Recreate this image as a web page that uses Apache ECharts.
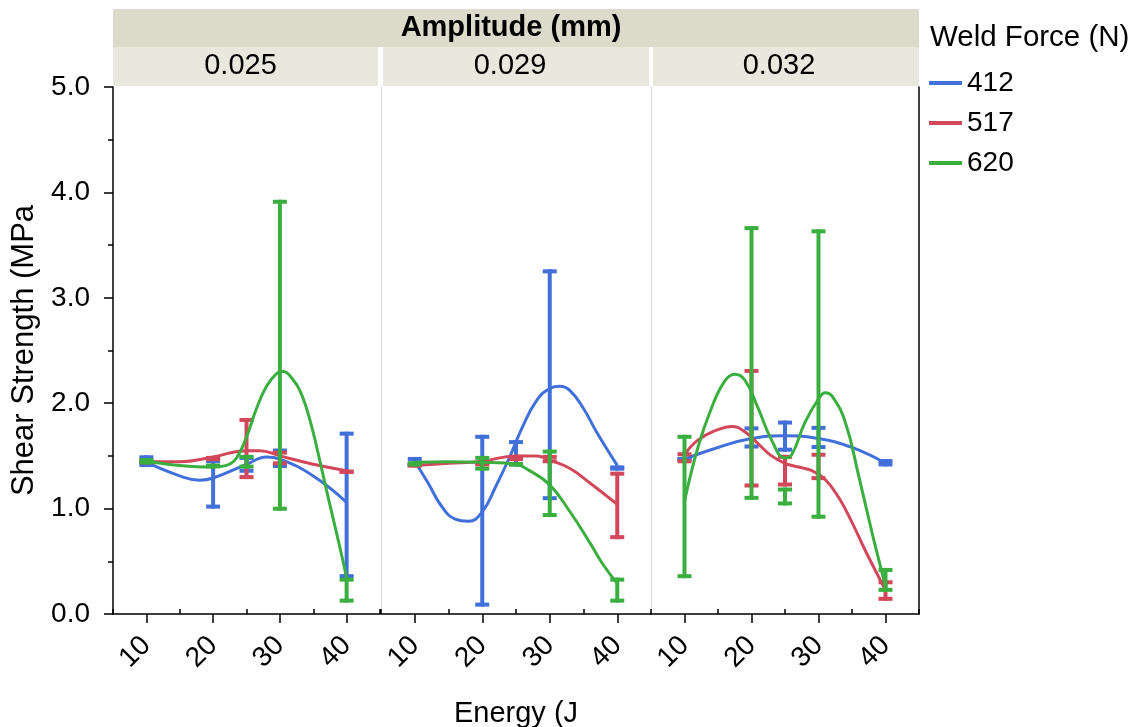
<!DOCTYPE html>
<html>
<head>
<meta charset="utf-8">
<script src="https://cdn.jsdelivr.net/npm/echarts@6/dist/echarts.min.js"></script>
<style>
html,body{margin:0;padding:0;background:#fff;}
#chart{width:1144px;height:727px;}
</style>
</head>
<body>
<div id="chart"></div>
<script>
// ---- data ----
const energyTicks = [10, 20, 30, 40];
const minorTicks = [5, 15, 25, 35, 45];
const amplitudes = ['0.025', '0.029', '0.032'];
const forces = ['412', '517', '620'];

// smoother curves [energy, shear strength] per weld force and amplitude
const fit412_025 = [[10,1.44],[15,1.31],[18,1.27],[20,1.29],[25,1.42],[28,1.49],[30,1.47],[35,1.31],[40,1.06]];
const fit517_025 = [[10,1.445],[15,1.445],[20,1.49],[25,1.55],[27,1.55],[30,1.50],[35,1.42],[40,1.36]];
const fit620_025 = [[10,1.45],[15,1.41],[20,1.395],[22,1.41],[23.5,1.48],[25,1.68],[26.5,1.95],[28,2.16],[29.5,2.28],[30.5,2.30],[32,2.22],[33,2.12],[34,1.95],[35,1.72],[36,1.45],[37,1.17],[38,0.90],[39,0.63],[40,0.345]];

const fit412_029 = [[10,1.45],[12,1.24],[14,1.02],[16,0.90],[18,0.88],[20,0.97],[22,1.21],[24,1.48],[26,1.78],[28,2.02],[30,2.14],[31.5,2.16],[33,2.12],[35,1.95],[37,1.72],[40,1.41]];
const fit517_029 = [[10,1.41],[15,1.43],[20,1.45],[25,1.50],[28,1.50],[30,1.46],[33,1.38],[36,1.24],[40,1.04]];
const fit620_029 = [[10,1.44],[15,1.445],[20,1.44],[25,1.42],[27,1.36],[30,1.225],[33,0.97],[36,0.67],[38,0.46],[40,0.29]];

const fit412_032 = [[10,1.47],[15,1.58],[20,1.665],[25,1.69],[30,1.665],[35,1.58],[40,1.43]];
const fit517_032 = [[10,1.51],[12,1.65],[15,1.75],[17,1.78],[19,1.73],[21,1.615],[23,1.50],[25,1.43],[27,1.395],[29,1.36],[31,1.276],[33,1.107],[35,0.87],[37,0.60],[40,0.227]];
const fit620_032 = [[10,1.07],[12,1.58],[14,1.95],[16,2.21],[17.5,2.275],[19,2.22],[21,1.95],[23,1.65],[25,1.48],[26,1.51],[28,1.82],[30,2.04],[31,2.10],[32,2.07],[34,1.82],[36,1.31],[38,0.77],[40,0.26]];

// error bars [energy, low, high]
const err412_025 = [[10,1.395,1.506],[20,1.0,1.47],[25,1.34,1.50],[30,1.385,1.57],[40,0.34,1.73]];
const err517_025 = [[10,1.42,1.47],[20,1.45,1.50],[25,1.28,1.86],[30,1.41,1.55],[40,1.33,1.37]];
const err620_025 = [[10,1.42,1.48],[20,1.39,1.42],[25,1.38,1.51],[30,0.98,3.93],[40,0.108,0.345]];

const err412_029 = [[10,1.40,1.49],[20,0.07,1.70],[25,1.40,1.65],[30,1.08,3.27],[40,1.36,1.41]];
const err517_029 = [[10,1.39,1.43],[20,1.40,1.45],[25,1.45,1.51],[30,1.43,1.51],[40,0.71,1.35]];
const err620_029 = [[10,1.40,1.45],[20,1.36,1.50],[25,1.40,1.44],[30,0.92,1.56],[40,0.108,0.345]];

const err412_032 = [[10,1.45,1.49],[20,1.57,1.78],[25,1.54,1.835],[30,1.565,1.785],[40,1.40,1.47]];
const err517_032 = [[10,1.43,1.535],[20,1.20,2.325],[25,1.21,1.51],[30,1.27,1.53],[40,0.125,0.32]];
const err620_032 = [[10,0.34,1.70],[20,1.083,3.68],[25,1.03,1.20],[30,0.904,3.65],[40,0.21,0.437]];

const fits = {'412':[fit412_025,fit412_029,fit412_032],'517':[fit517_025,fit517_029,fit517_032],'620':[fit620_025,fit620_029,fit620_032]};
const errs = {'412':[err412_025,err412_029,err412_032],'517':[err517_025,err517_029,err517_032],'620':[err620_025,err620_029,err620_032]};

// ---- styling ----
const colors = {'412':'#4170DB','517':'#D2475A','620':'#3AAF3F'};
const FONT = 'Liberation Sans';
const FS = 28;
const gridBoxes = [{left:113,width:267},{left:381,width:270},{left:651,width:268}];
const gridTop = 87, gridHeight = 527;

const chart = echarts.init(document.getElementById('chart'));

const grid = gridBoxes.map(g => ({left:g.left, width:g.width, top:gridTop, height:gridHeight, containLabel:false, outerBoundsMode:'none'}));

const xAxis = [];
gridBoxes.forEach((g, i) => {
  xAxis.push({
    type:'value', gridIndex:i, min:5, max:45,
    axisLine:{show:true, onZero:false, lineStyle:{color:'#000', width:1.5}},
    axisTick:{show:true, customValues:energyTicks, length:9, lineStyle:{color:'#000', width:1.5}},
    axisLabel:{show:true, customValues:energyTicks, rotate:45, margin:27, color:'#000', fontFamily:FONT, fontSize:FS},
    splitLine:{show:false},
    name: i === 1 ? 'Energy (J' : '',
    nameLocation:'middle', nameGap:85,
    nameTextStyle:{color:'#000', fontFamily:FONT, fontSize:FS + 1}
  });
  xAxis.push({
    type:'value', gridIndex:i, min:5, max:45,
    axisLine:{show:false},
    axisTick:{show:true, customValues:minorTicks, length:5, lineStyle:{color:'#000', width:1.5}},
    axisLabel:{show:false},
    splitLine:{show:false}
  });
});

const yAxis = [
  {
    type:'value', gridIndex:0, min:0, max:5, interval:1,
    axisLine:{show:true, lineStyle:{color:'#000', width:1.5}},
    axisTick:{show:true, length:9, lineStyle:{color:'#000', width:1.5}},
    minorTick:{show:true, splitNumber:2, length:5, lineStyle:{color:'#000', width:1.5}},
    axisLabel:{margin:23, color:'#000', fontFamily:FONT, fontSize:FS, formatter: v => v.toFixed(1)},
    splitLine:{show:false},
    name:'Shear Strength (MPa', nameLocation:'middle', nameGap:73,
    nameTextStyle:{color:'#000', fontFamily:FONT, fontSize:31}
  },
  {type:'value', gridIndex:1, min:0, max:5, interval:1, axisLine:{show:true, lineStyle:{color:'#d9d9d9', width:1}}, axisTick:{show:false}, axisLabel:{show:false}, splitLine:{show:false}},
  {type:'value', gridIndex:2, min:0, max:5, interval:1, axisLine:{show:true, lineStyle:{color:'#d9d9d9', width:1}}, axisTick:{show:false}, axisLabel:{show:false}, splitLine:{show:false}},
  {type:'value', gridIndex:2, min:0, max:5, interval:1, position:'right', axisLine:{show:true, lineStyle:{color:'#000', width:1.5}}, axisTick:{show:false}, axisLabel:{show:false}, splitLine:{show:false}}
];

function errRender(color) {
  return function(params, api) {
    const x = api.value(0), lo = api.value(1), hi = api.value(2);
    const pLo = api.coord([x, lo]);
    const pHi = api.coord([x, hi]);
    const hw = 7;
    const st = {stroke:color, lineWidth:4};
    return {
      type:'group',
      children:[
        {type:'line', shape:{x1:pLo[0], y1:pLo[1], x2:pHi[0], y2:pHi[1]}, style:st},
        {type:'line', shape:{x1:pLo[0]-hw, y1:pLo[1]-2, x2:pLo[0]+hw, y2:pLo[1]-2}, style:st},
        {type:'line', shape:{x1:pHi[0]-hw, y1:pHi[1]+2, x2:pHi[0]+hw, y2:pHi[1]+2}, style:st}
      ]
    };
  };
}

const series = [];
gridBoxes.forEach((g, i) => {
  forces.forEach((f, k) => {
    series.push({
      type:'line', name:f, xAxisIndex:2*i, yAxisIndex:i,
      data:fits[f][i], smooth:0.45, showSymbol:false, symbol:'none',
      lineStyle:{color:colors[f], width:3}, itemStyle:{color:colors[f]},
      z:2+k, silent:true
    });
    series.push({
      type:'custom', name:f+' err', xAxisIndex:2*i, yAxisIndex:i,
      data:errs[f][i], renderItem:errRender(colors[f]),
      encode:{x:0, y:[1,2]}, z:2+k, silent:true
    });
  });
});

// header strip
const graphic = [];
const hLeft = gridBoxes[0].left, hRight = gridBoxes[2].left + gridBoxes[2].width;
graphic.push({type:'rect', shape:{x:hLeft, y:9, width:hRight-hLeft, height:38}, style:{fill:'#dcdacb'}, silent:true});
graphic.push({type:'text', x:(hLeft+hRight)/2 - 5, y:28, style:{text:'Amplitude (mm)', fill:'#000', font:'bold 29px "'+FONT+'"', textAlign:'center', textVerticalAlign:'middle'}, silent:true});
gridBoxes.forEach((g, i) => {
  graphic.push({type:'rect', shape:{x:g.left + (i>0?2:0), y:47, width:g.width - (i>0?2:0) - (i<2?2:0), height:39}, style:{fill:'#e8e8df'}, silent:true});
  graphic.push({type:'text', x:g.left + g.width/2 - 6, y:66, style:{text:amplitudes[i], fill:'#000', font:'29px "'+FONT+'"', textAlign:'center', textVerticalAlign:'middle'}, silent:true});
});
// legend title
graphic.push({type:'text', x:930, y:38, style:{text:'Weld Force (N)', fill:'#000', font:'29.5px "'+FONT+'"', textAlign:'left', textVerticalAlign:'middle'}, silent:true});

chart.setOption({
  animation:false,
  backgroundColor:'#fff',
  grid, xAxis, yAxis, series, graphic,
  legend:{
    data:forces, orient:'vertical', left:924, top:64, itemGap:12,
    icon:'rect', itemWidth:33, itemHeight:4,
    textStyle:{color:'#000', fontFamily:FONT, fontSize:FS}, selectedMode:false
  }
});
</script>
</body>
</html>
